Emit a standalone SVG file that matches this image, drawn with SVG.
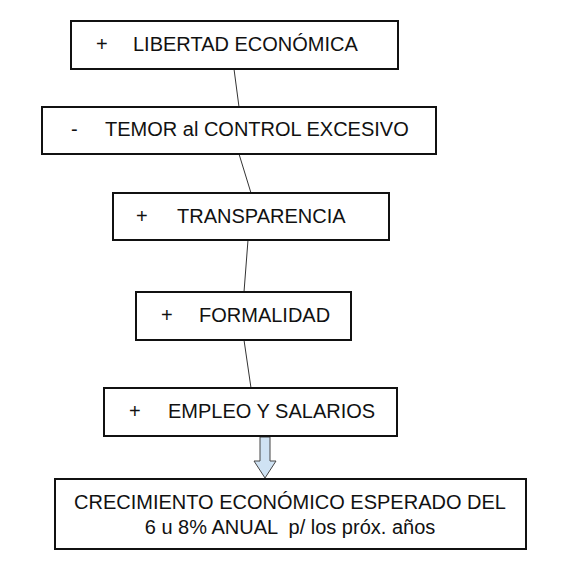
<svg xmlns="http://www.w3.org/2000/svg" width="561" height="562" viewBox="0 0 561 562">
<style>
.box{fill:#fff;stroke:#111;stroke-width:2}
.t{font-family:"Liberation Sans",Arial,sans-serif;font-size:20px;fill:#111}
.c{stroke:#333;stroke-width:1;fill:none}
</style>
<rect width="561" height="562" fill="#fff"/>
<g id="connectors">
<line class="c" x1="234" y1="69" x2="239" y2="107"/>
<line class="c" x1="239" y1="154" x2="251" y2="193"/>
<line class="c" x1="248" y1="240" x2="244" y2="292"/>
<line class="c" x1="244" y1="340" x2="251" y2="388"/>
<path d="M260,437 H270 V461 H276 L265,478 L254,461 H260 Z" fill="#cfe2f3" stroke="#444" stroke-width="1"/>
</g>
<g id="n1"><rect class="box" x="71" y="21" width="327" height="48"/>
<text class="t" x="96" y="51">+</text><text class="t" x="133" y="51">LIBERTAD ECONÓMICA</text></g>
<g id="n2"><rect class="box" x="42" y="107" width="394" height="47"/>
<text class="t" x="71" y="136">-</text><text class="t" x="105" y="136">TEMOR al CONTROL EXCESIVO</text></g>
<g id="n3"><rect class="box" x="113" y="193" width="276" height="47"/>
<text class="t" x="136" y="223">+</text><text class="t" x="177" y="223">TRANSPARENCIA</text></g>
<g id="n4"><rect class="box" x="136" y="292" width="215" height="48"/>
<text class="t" x="161" y="322">+</text><text class="t" x="199" y="322">FORMALIDAD</text></g>
<g id="n5"><rect class="box" x="104" y="388" width="293" height="48"/>
<text class="t" x="129" y="418">+</text><text class="t" x="168" y="418">EMPLEO Y SALARIOS</text></g>
<g id="n6"><rect class="box" x="55" y="479" width="471" height="70"/>
<text class="t" x="290" y="509" text-anchor="middle">CRECIMIENTO ECONÓMICO ESPERADO DEL</text>
<text class="t" x="290" y="534" text-anchor="middle" xml:space="preserve">6 u 8% ANUAL  p/ los próx. años</text></g>
</svg>
